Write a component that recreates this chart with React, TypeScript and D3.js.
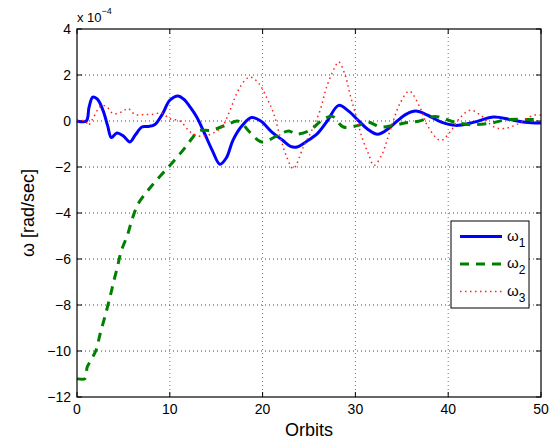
import React from "react";
import * as d3 from "d3";

const xTicks = [0, 10, 20, 30, 40, 50];
const yTicks = [4, 2, 0, -2, -4, -6, -8, -10, -12];

const w1T = [0, 1.0, 1.3, 1.7, 2.2, 2.8, 3.3, 3.7, 4.3, 5.0, 5.7, 6.3, 7.0, 7.7, 8.4, 9.2, 10.0, 10.9, 11.5, 12.2, 12.9, 13.7, 14.6, 15.4, 16.1, 16.8, 17.8, 18.8, 19.8, 21.0, 22.2, 23.0, 23.7, 24.7, 25.9, 26.9, 28.2, 29.2, 30.3, 31.3, 32.4, 33.5, 34.5, 35.5, 36.5, 37.8, 39.2, 40.8, 42.8, 44.9, 46.7, 48.3, 50];
const w1V = [0, 0, 0.6, 1.04, 0.95, 0.46, -0.2, -0.72, -0.52, -0.65, -0.91, -0.6, -0.26, -0.24, -0.15, 0.3, 0.9, 1.09, 0.95, 0.6, 0.17, -0.5, -1.3, -1.88, -1.6, -0.84, -0.2, 0.15, 0.0, -0.48, -0.85, -1.1, -1.13, -0.9, -0.55, -0.04, 0.68, 0.45, 0.03, -0.35, -0.58, -0.35, 0.0, 0.3, 0.43, 0.25, -0.04, -0.19, -0.05, 0.17, 0.06, -0.05, -0.09];

const w2T = [0, 0.86, 1.1, 1.5, 2.05, 2.5, 3.0, 3.56, 3.9, 4.35, 4.8, 5.43, 5.97, 6.6, 7.5, 8.4, 9.7, 10.75, 11.65, 12.4, 13.1, 14.5, 16.0, 17.4, 18.7, 19.9, 21.5, 22.8, 23.6, 25.1, 26.4, 27.5, 28.7, 30.3, 31.3, 32.7, 34.1, 35.3, 36.8, 38.6, 40.6, 42.4, 44.6, 46.4, 48.5, 50];
const w2V = [-11.2, -11.2, -10.7, -10.4, -9.97, -9.24, -8.52, -7.65, -7.07, -6.35, -5.62, -4.97, -4.24, -3.59, -3.09, -2.65, -2.07, -1.59, -1.16, -0.75, -0.43, -0.4, -0.19, -0.01, -0.52, -0.91, -0.66, -0.43, -0.57, -0.4, 0.03, 0.2, -0.26, -0.19, -0.04, -0.26, -0.19, -0.09, -0.01, 0.2, -0.04, -0.16, -0.09, 0.06, 0.07, 0.07];

const w3T = [0, 0.9, 1.2, 1.7, 2.3, 2.7, 3.2, 3.9, 4.8, 5.5, 6.25, 7.15, 8.2, 9.1, 10.0, 11.1, 12.0, 12.5, 13.3, 14.5, 15.6, 16.5, 17.2, 18.1, 18.7, 19.6, 20.5, 21.2, 21.9, 22.6, 23.3, 24.4, 25.3, 26.2, 26.9, 27.8, 28.2, 28.9, 29.4, 30.0, 30.7, 31.4, 32.0, 32.9, 33.4, 34.1, 34.8, 35.8, 37.0, 37.7, 38.8, 39.3, 40.2, 41.3, 42.4, 43.5, 44.9, 46.0, 47.4, 49.2, 50];
const w3V = [0, 0, -0.19, 0.1, 0.54, 0.68, 0.62, 0.32, 0.39, 0.54, 0.28, 0.28, 0.29, 0.35, 0.1, 0.0, -0.4, -0.55, -0.66, -0.56, -0.26, 0.47, 1.19, 1.77, 1.91, 1.63, 0.97, 0.32, -0.7, -1.56, -2.07, -1.13, -0.4, 0.47, 1.48, 2.35, 2.57, 1.99, 1.19, 0.32, -0.7, -1.42, -1.93, -1.42, -0.84, 0.03, 0.76, 1.3, 0.55, -0.15, -0.77, -0.84, -0.48, 0.15, 0.47, 0.25, -0.25, -0.33, -0.15, 0.25, 0.25];

const W = 554, H = 442;
const L = 77, R = 541, T = 29, B = 397;
const font = "'Liberation Sans', Arial, Helvetica, sans-serif";

export default function App() {
  const x = d3.scaleLinear().domain([0, 50]).range([L, R]);
  const y = d3.scaleLinear().domain([-12, 4]).range([B, T]);
  const mk = (ts: number[], vs: number[]) =>
    d3.line<number>().x((_, i) => x(ts[i])).y((v) => y(v)).curve(d3.curveCatmullRom.alpha(0.5))(vs) || "";

  const series = [
    { d: mk(w1T, w1V), stroke: "#0000ff", sw: 3, dash: undefined as string | undefined, label: "1" },
    { d: mk(w2T, w2V), stroke: "#008000", sw: 3, dash: "9,7", label: "2" },
    { d: mk(w3T, w3V), stroke: "#ff2020", sw: 1.5, dash: "1.5,3.5", label: "3" },
  ];

  const legX = 451, legY = 221, legW = 78, legH = 87;

  return (
    <svg width={W} height={H} style={{ position: "absolute", left: 0, top: 0 }} fontFamily={font}>
      <rect x={0} y={0} width={W} height={H} fill="#fff" />
      <rect x={L} y={T} width={R - L} height={B - T} fill="#fff" />
      {xTicks.slice(1, -1).map((t) => (
        <line key={"gx" + t} x1={x(t)} x2={x(t)} y1={T} y2={B} stroke="#777" strokeWidth={1} strokeDasharray="1,3" />
      ))}
      {yTicks.slice(1, -1).map((t) => (
        <line key={"gy" + t} x1={L} x2={R} y1={y(t)} y2={y(t)} stroke="#444" strokeWidth={1} strokeDasharray="1,3" />
      ))}
      {xTicks.map((t) => (
        <g key={"tx" + t}>
          <line x1={x(t)} x2={x(t)} y1={B} y2={B - 5} stroke="#000" />
          <line x1={x(t)} x2={x(t)} y1={T} y2={T + 5} stroke="#000" />
          <text x={x(t)} y={B + 17} fontSize={14} textAnchor="middle">{t}</text>
        </g>
      ))}
      {yTicks.map((t) => (
        <g key={"ty" + t}>
          <line x1={L} x2={L + 5} y1={y(t)} y2={y(t)} stroke="#000" />
          <line x1={R} x2={R - 5} y1={y(t)} y2={y(t)} stroke="#000" />
          <text x={L - 6} y={y(t) + 5} fontSize={14} textAnchor="end">{t < 0 ? "\u2212" + Math.abs(t) : t}</text>
        </g>
      ))}
      <g>
        {series.map((s, i) => (
          <path key={i} d={s.d} fill="none" stroke={s.stroke} strokeWidth={s.sw} strokeDasharray={s.dash} strokeLinejoin="round" />
        ))}
      </g>
      <rect x={L} y={T} width={R - L} height={B - T} fill="none" stroke="#000" strokeWidth={1.2} />
      <text x={L} y={22} fontSize={13}>x 10<tspan dy={-8} fontSize={9}>{"\u22124"}</tspan></text>
      <text x={(L + R) / 2} y={436} fontSize={18} textAnchor="middle">Orbits</text>
      <text transform={`translate(34, ${(T + B) / 2}) rotate(-90)`} fontSize={18} textAnchor="middle">ω [rad/sec]</text>
      <rect x={legX} y={legY} width={legW} height={legH} fill="#fff" stroke="#000" strokeWidth={1} />
      {series.map((s, i) => {
        const ly = legY + 15.5 + i * 27.5;
        return (
          <g key={"lg" + i}>
            <line x1={460} x2={502} y1={ly} y2={ly} stroke={s.stroke} strokeWidth={s.sw} strokeDasharray={s.dash} />
            <text x={507} y={ly + 4} fontSize={15}>ω<tspan dy={6} fontSize={12}>{s.label}</tspan></text>
          </g>
        );
      })}
    </svg>
  );
}
